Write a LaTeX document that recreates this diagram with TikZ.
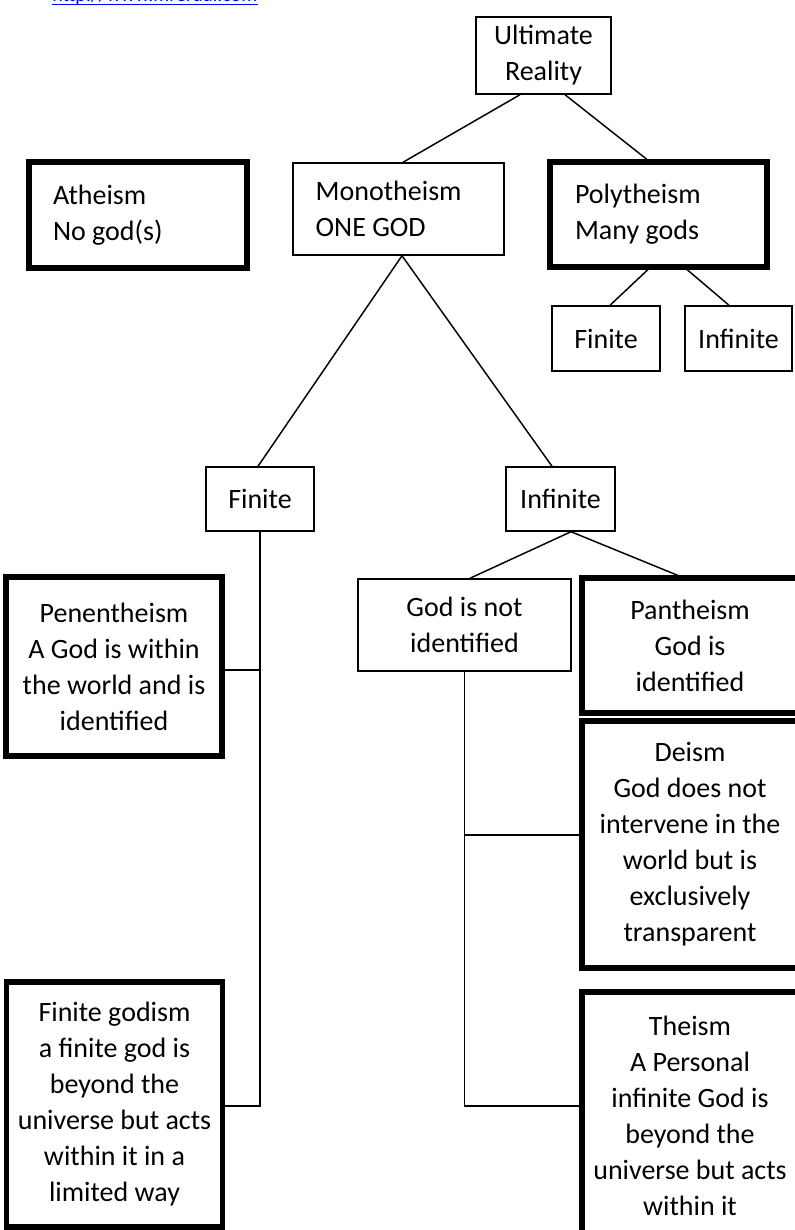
\documentclass[tikz,border=0pt]{standalone}
\usepackage{fontspec}
\setmainfont{Carlito}
\usetikzlibrary{calc}
\tikzset{
  box/.style={draw, line width=1.1pt, inner sep=0pt, align=center},
  heavybox/.style={box, line width=3.8pt},
  leftbox/.style={align=flush left},
}
\begin{document}
\begin{tikzpicture}[x=0.75pt,y=-0.75pt,font=\fontsize{21}{27}\selectfont]
    \useasboundingbox (0,0) rectangle (794,1230);

    % link at the top edge
    \node[anchor=base west, inner sep=0pt, text=blue, font=\fontsize{15}{18}\selectfont] (link) at (52,2) {http://www.mrerdal.com};
    \draw[blue, line width=1pt] ([yshift=-1.9pt]link.base west) -- ([yshift=-1.9pt]link.base east);

    % first rows
    \node[box, minimum width=101.25pt, minimum height=57.75pt] (real) at (543.5,55.5) {Ultimate\\Reality};
    \node[heavybox, leftbox, text width=127.5pt, inner xsep=18pt, minimum height=79.5pt] (athe) at (138,215) {Atheism\\No god(s)};
    \node[box, leftbox, text width=124.25pt, inner xsep=17pt, minimum height=69pt] (mono) at (398.5,209) {Monotheism\\ONE GOD};
    \node[heavybox, leftbox, text width=125.25pt, inner xsep=18.75pt, minimum height=78.75pt] (poly) at (658.5,214.5) {Polytheism\\Many gods};
    \node[box, minimum width=81pt, minimum height=48.75pt] (pfin) at (606,338.5) {Finite};
    \node[box, minimum width=80.25pt, minimum height=48.75pt] (pinf) at (738.5,338.5) {Infinite};
    \node[box, minimum width=81pt, minimum height=48pt] (mfin) at (260,499) {Finite};
    \node[box, minimum width=81.75pt, minimum height=48pt] (minf) at (560.5,499) {Infinite};

    % lower boxes
    \node[box, minimum width=159.75pt, minimum height=69pt] (notid) at (464.5,625) {God is not\\identified};
    \begin{scope}[minimum width=162pt]
        \node[heavybox, minimum height=134.25pt] (pen) at (114,666.5) {Penentheism\\A God is within\\the world and is\\identified};
        \node[heavybox, minimum height=183.75pt] (fgod) at (114.5,1104.5) {Finite godism\\a finite god is\\beyond the\\universe but acts\\within it in a\\limited way};
        \node[heavybox, minimum height=101.25pt] (pan) at (690,645.5) {Pantheism\\God is\\identified};
        \node[heavybox, minimum height=185.25pt] (deism) at (690,844.5) {Deism\\God does not\\intervene in the\\world but is\\exclusively\\transparent};
        \node[heavybox, minimum height=185.25pt] (theism) at (690,1115.5) {Theism\\A Personal\\infinite God is\\beyond the\\universe but acts\\within it};
    \end{scope}

    % branches
    \begin{scope}[line width=1.1pt]
        \draw ($(real.south)+(-23.5,0)$) -- ($(mono.north)+(4.5,0)$);
        \draw ($(real.south)+(21.5,0)$) -- ($(poly.north)+(-11.5,0)$);
        \draw ($(poly.south)+(-10.5,0)$) -- ($(pfin.north)+(4,0)$);
        \draw ($(poly.south)+(28.5,0)$) -- ($(pinf.north)+(-9.5,0)$);
        \draw ($(mono.south)+(3.5,0)$) -- ($(mfin.north)+(-2,0)$);
        \draw ($(mono.south)+(3.5,0)$) -- ($(minf.north)+(-8.5,0)$);
        \draw ($(minf.south)+(10.5,0)$) -- ($(notid.north)+(5.5,0)$);
        \draw ($(minf.south)+(10.5,0)$) -- ($(pan.north)+(-12,0)$);
    \end{scope}

    \coordinate (pj) at ($(pen.east)+(0,3.5)$);
    \coordinate (fj) at ($(fgod.east)+(0,1.5)$);
    \coordinate (dj) at ($(deism.west)+(0,-9.5)$);
    \coordinate (tj) at ($(theism.west)+(0,-9.5)$);
    \begin{scope}[line width=1.1pt]
        \draw (mfin.south) -- (mfin.south |- fj) -- (fj);
        \draw (pj) -- (pj -| mfin.south);
        \draw (notid.south) -- (notid.south |- tj) -- (tj);
        \draw (dj) -- (dj -| notid.south);
    \end{scope}
\end{tikzpicture}
\end{document}
